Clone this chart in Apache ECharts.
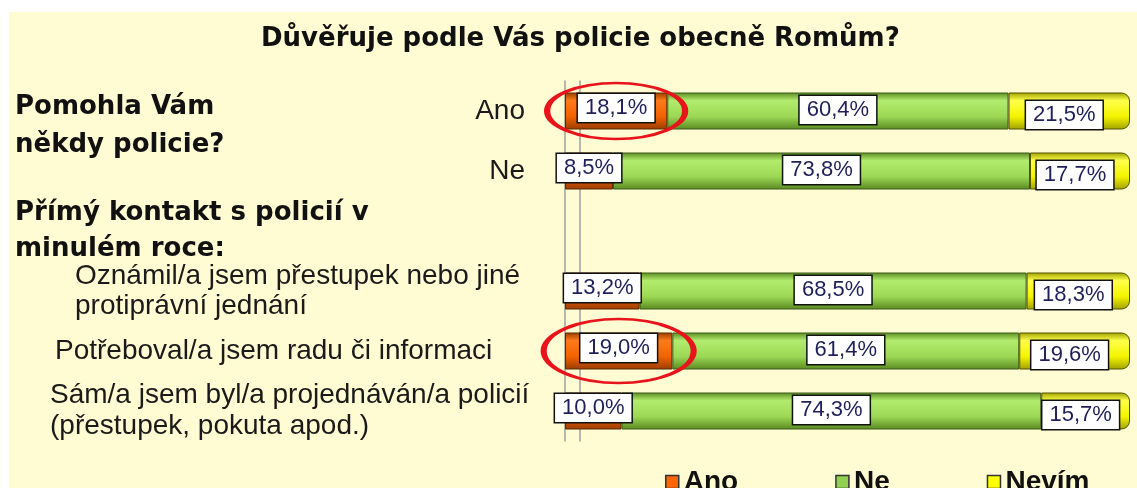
<!DOCTYPE html>
<html>
<head>
<meta charset="utf-8">
<script src="https://cdn.jsdelivr.net/npm/echarts@6/dist/echarts.min.js"></script>
<style>
  html, body { margin: 0; padding: 0; background: #fff; }
  #bg { position: absolute; left: 9px; top: 12px; width: 1128px; height: 476px; background: #FFFBD2; }
  #chart { position: absolute; left: 0; top: 0; width: 1137px; height: 488px; }
</style>
</head>
<body>
<div id="bg"></div>
<div id="chart"></div>
<script>
// data
const categories = [
  'Ano',
  'Ne',
  '',
  'Oznámil/a jsem přestupek nebo jiné\nprotiprávní jednání',
  'Potřeboval/a jsem radu či informaci',
  'Sám/a jsem byl/a projednáván/a policií\n(přestupek, pokuta apod.)',
];
const anoValues = [18.1, 8.5, null, 13.2, 19.0, 10.0];
const neValues = [60.4, 73.8, null, 68.5, 61.4, 74.3];
const nevimValues = [21.5, 17.7, null, 18.3, 19.6, 15.7];
const seriesNames = ['Ano', 'Ne', 'Nevím'];
const highlighted = ['Ano', 'Potřeboval/a jsem radu či informaci'];
const groupHeadings = ['Pomohla Vám\nněkdy policie?', 'Přímý kontakt s policií v\nminulém roce:'];
const titleText = 'Důvěřuje podle Vás policie obecně Romům?';

const chart = echarts.init(document.getElementById('chart'));

const sans = '"Liberation Sans", Arial, sans-serif';
// rich style key for each category label (left offset of the text block)
const labelStyleKeys = ['r', 'r', 'r', 'o', 'p', 's'];

function fmt(v) {
  return v.toFixed(1).replace('.', ',') + '%';
}

function cylinder(dark, light, mid) {
  return new echarts.graphic.LinearGradient(0, 0, 0, 1, [
    { offset: 0, color: dark },
    { offset: 0.22, color: light },
    { offset: 0.65, color: mid },
    { offset: 1, color: dark },
  ]);
}

function valueLabel(offset) {
  return {
    show: true,
    position: 'inside',
    formatter: p => fmt(p.value),
    color: '#1E1E58',
    fontSize: 22,
    fontFamily: sans,
    backgroundColor: '#fff',
    borderColor: '#111',
    borderWidth: 1.5,
    padding: [4, 7, 2, 7],
    offset: offset,
  };
}

const ellipse = 'path://M0,50 A100,50 0 1,1 200,50 A100,50 0 1,1 0,50 Z';
const catText = { fontSize: 28, color: '#1a1a1a', fontFamily: sans };

const option = {
  backgroundColor: 'transparent',
  animation: false,
  title: {
    text: titleText,
    left: 256,
    top: 21,
    textStyle: { fontSize: 26, fontWeight: 'bold', color: '#111', fontFamily: '"DejaVu Sans", Verdana, sans-serif' },
  },
  legend: {
    left: 660,
    top: 463,
    icon: 'rect',
    itemWidth: 13,
    itemHeight: 13,
    itemGap: 97,
    textStyle: { fontSize: 28, fontWeight: 'bold', color: '#111', fontFamily: sans },
    data: [
      { name: seriesNames[0], itemStyle: { color: '#FF6600', borderColor: '#333', borderWidth: 1.5 } },
      { name: seriesNames[1], itemStyle: { color: '#92D050', borderColor: '#333', borderWidth: 1.5 } },
      { name: seriesNames[2], itemStyle: { color: '#FFFF00', borderColor: '#333', borderWidth: 1.5 } },
    ],
  },
  grid: { left: 565, right: 7, top: 81, bottom: 47 },
  xAxis: { type: 'value', min: 0, max: 100, show: false },
  yAxis: [
    {
      type: 'category',
      data: categories,
      inverse: true,
      axisLine: { lineStyle: { color: '#A0A0A0', width: 1.5 } },
      axisTick: { length: 10, lineStyle: { color: '#A0A0A0' } },
      axisLabel: {
        align: 'left',
        margin: 515,
        formatter: (value, idx) => {
          const key = labelStyleKeys[idx];
          return value.split('\n').map(line => `{${key}|${line}}`).join('\n');
        },
        rich: {
          r: Object.assign({ width: 475, align: 'right' }, catText),
          o: Object.assign({ padding: [0, 0, 0, 25], lineHeight: 30 }, catText),
          p: Object.assign({ padding: [0, 0, 0, 5], lineHeight: 30 }, catText),
          s: Object.assign({ padding: [0, 0, 0, 0], lineHeight: 31 }, catText),
        },
      },
    },
    {
      type: 'category',
      data: categories,
      inverse: true,
      position: 'left',
      offset: -15,
      axisLine: { lineStyle: { color: '#A0A0A0', width: 1.5 } },
      axisTick: { show: false },
      axisLabel: { show: false },
    },
  ],
  graphic: [
    {
      type: 'text', left: 15, top: 88,
      style: { text: groupHeadings[0], font: 'bold 26px "DejaVu Sans"', fill: '#111', lineHeight: 38 },
    },
    {
      type: 'text', left: 15, top: 195,
      style: { text: groupHeadings[1], font: 'bold 26px "DejaVu Sans"', fill: '#111', lineHeight: 36 },
    },
  ],
  series: [
    {
      name: seriesNames[0],
      type: 'bar',
      stack: 'total',
      barWidth: 37,
      data: anoValues,
      itemStyle: { color: cylinder('#9A3C00', '#FF7A1A', '#F26200'), borderColor: '#5a2a00', borderWidth: 1 },
      label: valueLabel([0, -3]),
      markPoint: {
        symbol: ellipse,
        symbolKeepAspect: false,
        silent: true,
        label: { show: false },
        itemStyle: { color: 'transparent', borderColor: '#E8141B', borderWidth: 4 },
        data: [
          { coord: [anoValues[categories.indexOf(highlighted[0])] / 2, highlighted[0]], symbolSize: [138, 56] },
          { coord: [anoValues[categories.indexOf(highlighted[1])] / 2, highlighted[1]], symbolSize: [150, 64] },
        ],
      },
    },
    {
      name: seriesNames[1],
      type: 'bar',
      stack: 'total',
      data: neValues,
      itemStyle: { color: cylinder('#5A8A22', '#B2EC6E', '#9CD854'), borderColor: '#3c5a18', borderWidth: 1 },
      label: valueLabel([0, -1]),
    },
    {
      name: seriesNames[2],
      type: 'bar',
      stack: 'total',
      data: nevimValues,
      itemStyle: { color: cylinder('#A0A000', '#FFFF4A', '#F4F400'), borderColor: '#555500', borderWidth: 1, borderRadius: [0, 8, 8, 0] },
      label: valueLabel([-5, 4]),
    },
  ],
};

chart.setOption(option);
</script>
</body>
</html>
